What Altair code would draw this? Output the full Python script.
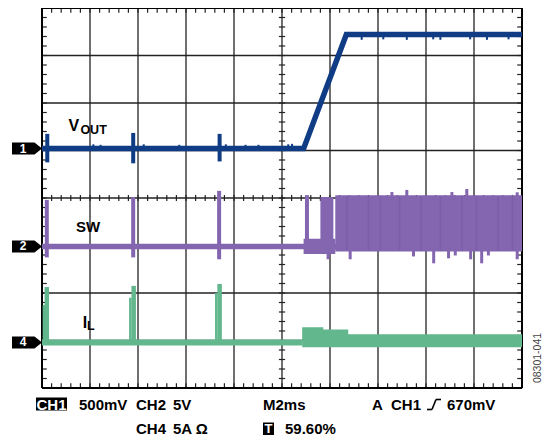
import altair as alt
import pandas as pd

BLUE = "#0f3c84"
PURPLE = "#8466b0"
GREEN = "#62b78d"
GRID = "#222222"
FONT = "Liberation Sans"

# ---------------- graticule (scope divisions) ----------------
x_major = [1, 2, 3, 4, 5, 6, 7, 8, 9]
y_major = [-3, -2, -1, 0, 1, 2, 3]
x_minor = [i / 5 for i in range(1, 50)]
y_minor = [i / 5 - 4 for i in range(1, 40)]

# ---------------- CH1 : VOUT ----------------
vout_x = [0.0, 5.45, 6.34, 10.0]
vout_y = [1.04, 1.04, 3.44, 3.44]
vout_spike_x = [0.11, 1.90, 3.70]
vout_spike_top = [1.35, 1.37, 1.35]
vout_spike_bot = [0.75, 0.73, 0.77]
vout_noise_x = [1.07, 1.22, 2.12, 2.86, 3.83, 4.24, 4.51, 5.13, 5.21,
                6.66, 7.11, 7.60, 8.15, 8.30, 8.92, 9.27, 9.72]
vout_noise_top = [1.13, 1.12, 1.13, 1.12, 1.13, 1.12, 1.12, 1.13, 1.14,
                  3.47, 3.47, 3.47, 3.47, 3.47, 3.47, 3.47, 3.47]
vout_noise_bot = [1.00, 1.00, 1.00, 0.99, 1.00, 1.00, 1.00, 1.00, 1.00,
                  3.33, 3.34, 3.33, 3.34, 3.33, 3.34, 3.33, 3.34]

# ---------------- CH2 : SW ----------------
sw_base_x = [0.0, 10.0]
sw_base_y = [-1.02, -1.02]
sw_spike_x = [0.10, 1.90, 3.69, 5.52]
sw_spike_top = [-0.04, 0.02, 0.15, 0.06]
sw_spike_bot = [-1.25, -1.25, -1.29, -1.06]
sw_block_x = [5.80]
sw_block_x2 = [6.07]
sw_block_top = [0.02]
sw_block_bot = [-1.02]
sw_ring_x = [5.45, 6.11]
sw_ring_top = [-0.86, -0.86]
sw_ring_bot = [-1.18, -1.18]
sw_band_x = [6.11, 10.0]
sw_band_top = [0.06, 0.06]
sw_band_bot = [-1.125, -1.125]
sw_dip_x = [5.96, 6.42, 7.74, 8.16, 8.47, 8.61, 8.93, 9.16, 9.30, 9.90]
sw_dip_top = [-1.0, -1.0, -1.0, -1.0, -1.0, -1.0, -1.0, -1.0, -1.0, -1.0]
sw_dip_bot = [-1.29, -1.29, -1.23, -1.375, -1.27, -1.21, -1.29, -1.375, -1.21, -1.29]
sw_peak_x = [7.29, 7.60, 8.54, 8.85, 9.90]
sw_peak_top = [0.125, 0.17, 0.125, 0.19, 0.12]
sw_peak_bot = [0.0, 0.0, 0.0, 0.0, 0.0]
sw_streak_x = [6.35, 6.8, 7.05, 7.45, 7.9, 8.3, 8.75, 9.05, 9.5, 9.8]

# ---------------- CH4 : IL ----------------
il_base_x = [0.0, 5.42]
il_base_y = [-3.04, -3.04]
il_spike_x = [0.10, 1.91, 3.70]
il_spike_top = [-1.875, -1.85, -1.81]
il_spike_bot = [-3.04, -3.04, -3.04]
il_shoulder_x = [0.04, 1.84, 3.63]
il_shoulder_top = [-2.25, -2.10, -2.00]
il_band_x = [5.42, 5.86, 6.38, 10.0]
il_band_top = [-2.72, -2.77, -2.87, -2.87]
il_band_bot = [-3.14, -3.14, -3.14, -3.14]

# ---------------- labels ----------------
ch_labels = ["1", "2", "4"]
ch_levels = [1.04, -1.02, -3.04]
trace_labels = ["V", "OUT", "SW", "I", "L"]
footer = ["CH1", "500mV", "CH2", "5V", "M2ms", "A", "CH1", "670mV",
          "CH4", "5A Ω", "T", "59.60%"]
fig_id = "08301-041"

XS = alt.Scale(domain=[0, 10], nice=False, zero=False)
YS = alt.Scale(domain=[-4, 4], nice=False, zero=False)


def X(f):
    return alt.X(f, type="quantitative", scale=XS, axis=None)


def Y(f):
    return alt.Y(f, type="quantitative", scale=YS, axis=None)


def df(**cols):
    return pd.DataFrame(cols)


def rep(v, n):
    return [v] * n


layers = []

# grid
layers.append(alt.Chart(df(x=x_major)).mark_rule(color=GRID, strokeWidth=1.3).encode(x=X("x")))
layers.append(alt.Chart(df(y=y_major)).mark_rule(color=GRID, strokeWidth=1.3).encode(y=Y("y")))
nx, ny = len(x_minor), len(y_minor)
# minor ticks on centre lines
layers.append(alt.Chart(df(x=x_minor, a=rep(-0.065, nx), b=rep(0.065, nx))).mark_rule(
    color=GRID, strokeWidth=1.2).encode(x=X("x"), y=Y("a"), y2=alt.Y2("b")))
layers.append(alt.Chart(df(y=y_minor, a=rep(4.935, ny), b=rep(5.065, ny))).mark_rule(
    color=GRID, strokeWidth=1.2).encode(y=Y("y"), x=X("a"), x2=alt.X2("b")))
# minor ticks on borders
layers.append(alt.Chart(df(x=x_minor, a=rep(3.9, nx), b=rep(4.0, nx))).mark_rule(
    color=GRID, strokeWidth=1.2).encode(x=X("x"), y=Y("a"), y2=alt.Y2("b")))
layers.append(alt.Chart(df(x=x_minor, a=rep(-4.0, nx), b=rep(-3.9, nx))).mark_rule(
    color=GRID, strokeWidth=1.2).encode(x=X("x"), y=Y("a"), y2=alt.Y2("b")))
layers.append(alt.Chart(df(y=y_minor, a=rep(0.0, ny), b=rep(0.1, ny))).mark_rule(
    color=GRID, strokeWidth=1.2).encode(y=Y("y"), x=X("a"), x2=alt.X2("b")))
layers.append(alt.Chart(df(y=y_minor, a=rep(9.9, ny), b=rep(10.0, ny))).mark_rule(
    color=GRID, strokeWidth=1.2).encode(y=Y("y"), x=X("a"), x2=alt.X2("b")))
# border
layers.append(alt.Chart(df(x=[0, 10])).mark_rule(color="black", strokeWidth=2).encode(x=X("x")))
layers.append(alt.Chart(df(y=[-4, 4])).mark_rule(color="black", strokeWidth=2).encode(y=Y("y")))

# CH2 SW
layers.append(alt.Chart(df(x=sw_base_x, y=sw_base_y)).mark_line(color=PURPLE, strokeWidth=5.5).encode(
    x=X("x"), y=Y("y")))
layers.append(alt.Chart(df(x=sw_ring_x, t=sw_ring_top, b=sw_ring_bot)).mark_area(color=PURPLE, opacity=1).encode(
    x=X("x"), y=Y("t"), y2=alt.Y2("b")))
layers.append(alt.Chart(df(x=sw_band_x, t=sw_band_top, b=sw_band_bot)).mark_area(color=PURPLE, opacity=1).encode(
    x=X("x"), y=Y("t"), y2=alt.Y2("b")))
layers.append(alt.Chart(df(x=sw_streak_x, t=rep(0.04, len(sw_streak_x)), b=rep(-1.1, len(sw_streak_x)))).mark_rule(
    color="#7a5eaa", strokeWidth=1.5).encode(x=X("x"), y=Y("t"), y2=alt.Y2("b")))
layers.append(alt.Chart(df(x=sw_block_x, x2=sw_block_x2, t=sw_block_top, b=sw_block_bot)).mark_rect(
    color=PURPLE, opacity=1).encode(x=X("x"), x2=alt.X2("x2"), y=Y("t"), y2=alt.Y2("b")))
layers.append(alt.Chart(df(x=sw_spike_x, t=sw_spike_top, b=sw_spike_bot)).mark_rule(
    color=PURPLE, strokeWidth=4).encode(x=X("x"), y=Y("t"), y2=alt.Y2("b")))
layers.append(alt.Chart(df(x=sw_dip_x, t=sw_dip_top, b=sw_dip_bot)).mark_rule(color=PURPLE, strokeWidth=3).encode(
    x=X("x"), y=Y("t"), y2=alt.Y2("b")))
layers.append(alt.Chart(df(x=sw_peak_x, t=sw_peak_top, b=sw_peak_bot)).mark_rule(color=PURPLE, strokeWidth=3).encode(
    x=X("x"), y=Y("t"), y2=alt.Y2("b")))

# CH4 IL
layers.append(alt.Chart(df(x=il_base_x, y=il_base_y)).mark_line(color=GREEN, strokeWidth=6).encode(
    x=X("x"), y=Y("y")))
layers.append(alt.Chart(df(x=il_band_x, t=il_band_top, b=il_band_bot)).mark_area(
    color=GREEN, opacity=1, interpolate="step-after").encode(x=X("x"), y=Y("t"), y2=alt.Y2("b")))
layers.append(alt.Chart(df(x=il_spike_x, t=il_spike_top, b=il_spike_bot)).mark_rule(
    color=GREEN, strokeWidth=4.5).encode(x=X("x"), y=Y("t"), y2=alt.Y2("b")))
layers.append(alt.Chart(df(x=il_shoulder_x, t=il_shoulder_top, b=il_spike_bot)).mark_rule(
    color=GREEN, strokeWidth=2.5).encode(x=X("x"), y=Y("t"), y2=alt.Y2("b")))

# CH1 VOUT
layers.append(alt.Chart(df(x=vout_x, y=vout_y)).mark_line(color=BLUE, strokeWidth=5.5).encode(
    x=X("x"), y=Y("y")))
layers.append(alt.Chart(df(x=vout_spike_x, t=vout_spike_top, b=vout_spike_bot)).mark_rule(
    color=BLUE, strokeWidth=4).encode(x=X("x"), y=Y("t"), y2=alt.Y2("b")))
layers.append(alt.Chart(df(x=vout_noise_x, t=vout_noise_top, b=vout_noise_bot)).mark_rule(
    color=BLUE, strokeWidth=2).encode(x=X("x"), y=Y("t"), y2=alt.Y2("b")))


def tlabel(s, x, y, size):
    return alt.Chart(df(t=[s], x=[x], y=[y])).mark_text(
        align="left", baseline="alphabetic", font=FONT, fontSize=size, fontWeight="bold", color="black"
    ).encode(x=X("x"), y=Y("y"), text="t:N")


layers.append(tlabel(trace_labels[0], 0.55, 1.42, 16))
layers.append(tlabel(trace_labels[1], 0.80, 1.35, 12.5))
layers.append(tlabel(trace_labels[2], 0.71, -0.71, 15))
layers.append(tlabel(trace_labels[3], 0.85, -2.73, 16))
layers.append(tlabel(trace_labels[4], 0.94, -2.78, 12.5))

# channel markers
MARK_PATH = "M-1,-0.4L0.5,-0.4L1,0L0.5,0.4L-1,0.4Z"
layers.append(alt.Chart(df(lab=ch_labels, lev=ch_levels)).mark_point(
    shape=MARK_PATH, filled=True, color="black", size=900, opacity=1, strokeWidth=0).encode(
    x=alt.value(-15), y=Y("lev")))
layers.append(alt.Chart(df(lab=ch_labels, lev=ch_levels)).mark_text(
    font=FONT, fontSize=12, fontWeight="bold", color="white", align="center", baseline="middle").encode(
    x=alt.value(-19), y=Y("lev"), text="lab:N"))


def ftext(s, x, y, color="black", align="left", size=15, weight="bold", angle=0):
    return alt.Chart(df(t=[s])).mark_text(
        align=align, baseline="middle", font=FONT, fontSize=size, fontWeight=weight, color=color, angle=angle
    ).encode(x=alt.value(x), y=alt.value(y), text="t:N")


def box(x, x2, y, y2):
    return alt.Chart(df(t=[0])).mark_rect(color="black", opacity=1).encode(
        x=alt.value(x), x2=alt.value(x2), y=alt.value(y), y2=alt.value(y2))


R1, R2 = 396.5, 421
layers.append(box(-6, 25, R1 - 7, R1 + 6))
layers.append(ftext(footer[0], 9.5, R1, color="white", align="center"))
layers.append(ftext(footer[1], 37, R1))
layers.append(ftext(footer[2], 94, R1))
layers.append(ftext(footer[3], 131, R1))
layers.append(ftext(footer[4], 221, R1))
layers.append(ftext(footer[5], 330, R1))
layers.append(ftext(footer[6], 349, R1))
layers.append(ftext(footer[7], 405, R1))
# trigger edge glyph
for (a, b, c, d) in [(385, 390, R1 + 5, R1 + 5), (390, 394, R1 + 5, R1 - 5), (394, 399, R1 - 5, R1 - 5)]:
    layers.append(alt.Chart(df(t=[0])).mark_rule(color="black", strokeWidth=1.6).encode(
        x=alt.value(a), x2=alt.value(b), y=alt.value(c), y2=alt.value(d)))
layers.append(ftext(footer[8], 94, R2))
layers.append(ftext(footer[9], 131, R2))
layers.append(box(221, 232, R2 - 6.5, R2 + 6))
layers.append(ftext(footer[10], 226.5, R2, color="white", align="center", size=13))
layers.append(ftext(footer[11], 243, R2))
layers.append(ftext(fig_id, 496, 350, color="#444444", align="center", size=10.5, weight="normal", angle=270))

chart = alt.layer(*layers).properties(
    width=480, height=380,
    padding={"left": 34, "top": 0, "right": 22, "bottom": 50},
    autosize=alt.AutoSizeParams(type="none"),
).configure_view(stroke=None).configure(background="white")

chart.save("out.html", embed_options={"renderer": "svg", "actions": False})
